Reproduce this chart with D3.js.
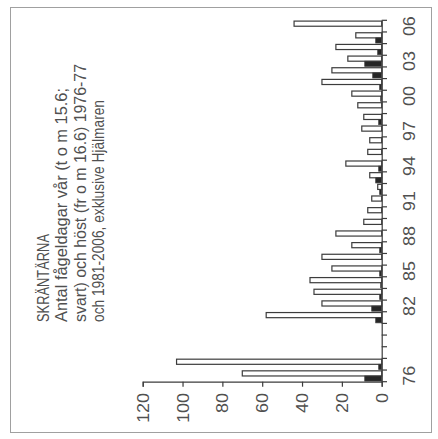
<!DOCTYPE html>
<html><head><meta charset="utf-8">
<script src="https://cdn.jsdelivr.net/npm/d3@7"></script>
<style>html,body{margin:0;padding:0;background:#fff;}svg{display:block;}</style>
</head><body>
<svg id="c" width="438" height="439"></svg>
<script>
const yearLabels = ["76","77","78","79","80","81","82","83","84","85","86","87","88","89","90","91","92","93","94","95","96","97","98","99","00","01","02","03","04","05","06"];
const shownYearLabels = ["76","82","85","88","91","94","97","00","03","06"];
const autumnDays = [70,103,0,0,0,58,30,34,36,25,30,15,23,9,7,5,2,6,18,7,6,10,9,12,15,30,25,17,23,13,44];
const springDays = [8.5,1.5,0,0,0,3,5,1,0.5,1,0,1,0,0,0,0,1,3,1.5,0,0,0,1.5,0,0.5,1,4.5,8.5,2,3,0];
const valueTicks = [0,20,40,60,80,100,120];
const titleLines = ["SKRÄNTÄRNA","Antal fågeldagar vår (t o m 15.6;","svart) och höst (fr o m 16.6) 1976-77","och 1981-2006, exklusive Hjälmaren"];

const svg = d3.select("#c");
const ink = "#3c3c3c", txt = "#505050";
const font = "'Liberation Sans', Arial, sans-serif";

// frame
svg.append("rect").attr("x",10.5).attr("y",7.5).attr("width",421).attr("height",425)
  .attr("fill","none").attr("stroke","#a0a0a0").attr("stroke-width",1);

const x = d3.scaleLinear().domain([0,120]).range([381.7,142.7]);
const y = d3.scaleBand().domain(yearLabels.slice().reverse()).range([20.3,381.7]).paddingInner(0).paddingOuter(0);
const inner = d3.scaleBand().domain(["host","var"]).range([0.8, y.bandwidth()-0.6]).padding(0);

const rows = yearLabels.map((yr,i)=>({yr, host:autumnDays[i], var:springDays[i]}));

const g = svg.append("g");
g.selectAll("rect.h").data(rows.filter(d=>d.host>0)).join("rect").attr("class","h")
  .attr("x",d=>x(d.host)).attr("width",d=>x(0)-x(d.host))
  .attr("y",d=>y(d.yr)+inner("host")).attr("height",inner.bandwidth())
  .attr("fill","#fff").attr("stroke",ink).attr("stroke-width",1.2);
g.selectAll("rect.v").data(rows.filter(d=>d.var>0)).join("rect").attr("class","v")
  .attr("x",d=>x(d.var)).attr("width",d=>x(0)-x(d.var))
  .attr("y",d=>y(d.yr)+inner("var")).attr("height",inner.bandwidth())
  .attr("fill","#262626").attr("stroke",ink).attr("stroke-width",0.8);

// value axis (bottom)
const xa = svg.append("g").attr("transform","translate(0,381.7)")
  .call(d3.axisBottom(x).tickValues(valueTicks).tickSize(5).tickFormat(""));
xa.select(".domain").attr("stroke",ink).attr("stroke-width",1.2);
xa.selectAll(".tick line").attr("stroke",ink).attr("stroke-width",1.2);
svg.append("g").selectAll("text").data(valueTicks).join("text")
  .attr("transform",d=>`translate(${x(d)+6},393) rotate(-90) scale(1.12,1)`)
  .attr("text-anchor","end").attr("font-family",font).attr("font-size",16).attr("fill",txt)
  .text(d=>d);

// category axis (right)
const ya = svg.append("g").attr("transform","translate(381.7,0)")
  .call(d3.axisRight(y).tickSize(0).tickFormat(""));
ya.select(".domain").attr("stroke",ink).attr("stroke-width",1.2);
const bounds = yearLabels.map(v=>y(v)).concat([y.range()[1]]);
svg.append("g").selectAll("line").data(bounds).join("line")
  .attr("x1",381.7).attr("x2",387).attr("y1",d=>d).attr("y2",d=>d)
  .attr("stroke",ink).attr("stroke-width",1.2);
svg.append("g").selectAll("text").data(shownYearLabels).join("text")
  .attr("transform",d=>`translate(${415},${y(d)+y.bandwidth()/2}) rotate(-90) scale(1.12,1)`)
  .attr("text-anchor","middle").attr("font-family",font).attr("font-size",16).attr("fill",txt)
  .text(d=>d);

// title
const titleX = [49,67,86,104];
const titleLen = [88,234,258,222];
svg.append("g").selectAll("text").data(titleLines).join("text")
  .attr("transform",(d,i)=>`translate(${titleX[i]},322) rotate(-90)`)
  .attr("font-family",font).attr("font-size",16).attr("fill",txt)
  .attr("textLength",(d,i)=>titleLen[i]).attr("lengthAdjust","spacingAndGlyphs")
  .text(d=>d);
</script>
</body></html>
